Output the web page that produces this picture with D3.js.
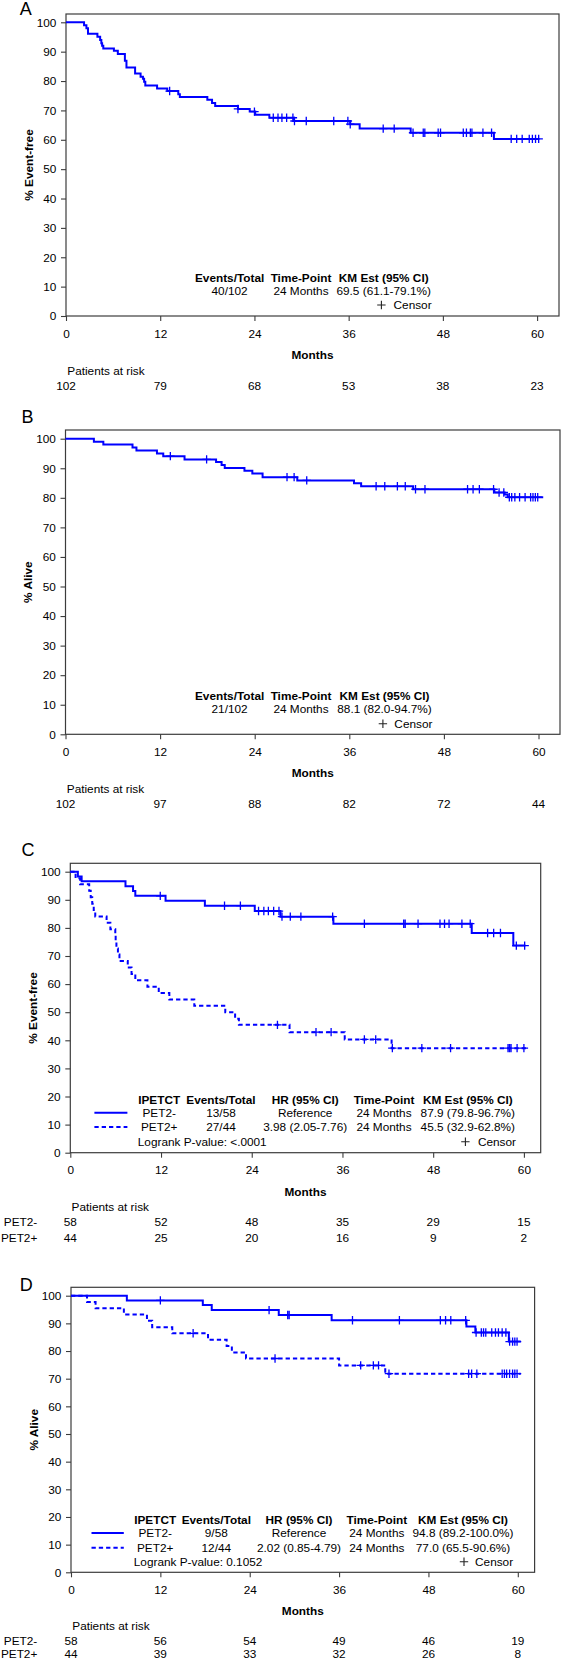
<!DOCTYPE html>
<html><head><meta charset="utf-8">
<script src="https://cdn.jsdelivr.net/npm/d3@7"></script>
<style>
body{margin:0;background:#fff}
svg{display:block;background:#fff}
text{font-family:"Liberation Sans",Arial,sans-serif;fill:#000}
</style>
</head><body>
<svg id="chart" width="562" height="1661"></svg>
<script>
// ---------------- DATA ----------------
const monthTicks = [0, 12, 24, 36, 48, 60];
const pctTicks = [0, 10, 20, 30, 40, 50, 60, 70, 80, 90, 100];
const panelLetters = ["A", "B", "C", "D"];
const yTitles = ["% Event-free", "% Alive", "% Event-free", "% Alive"];

// Panel A: event-free survival, all patients  [month, % event-free]
const aSteps = [[2.3,99.0],[2.6,98.0],[2.8,96.1],[4.0,95.1],[4.35,94.0],[4.5,92.9],[4.6,92.0],[4.75,91.1],[6.1,90.3],[6.6,89.2],[7.5,86.9],[7.7,84.6],[8.8,82.6],[9.5,81.5],[9.8,80.8],[9.95,79.8],[10.1,78.5],[11.6,77.5],[12.9,76.6],[14.3,75.5],[14.5,74.6],[18.0,73.6],[18.6,72.5],[19.0,71.5],[21.9,70.5],[23.4,69.6],[24.1,68.5],[25.9,67.5],[29.0,66.4],[36.2,65.3],[37.4,63.8],[43.9,62.4],[54.5,60.3]];
const aCensor = [13.2,21.9,24.0,26.4,27.0,27.5,28.1,28.9,29.1,30.6,34.1,35.9,36.2,40.4,41.8,44.2,45.5,45.7,47.4,47.7,50.6,51.0,51.5,51.7,53.1,54.2,56.7,57.4,58.1,59.0,59.4,59.8,60.2];
// Panel B: overall survival, all patients
const bSteps = [[3.6,99.0],[4.8,98.0],[8.5,97.0],[9.0,96.0],[11.6,95.0],[12.4,94.1],[15.1,93.0],[19.1,92.1],[19.8,91.1],[20.2,90.1],[22.7,89.2],[23.7,88.2],[25.0,87.0],[29.4,85.9],[36.6,84.9],[37.5,83.9],[44.1,82.9],[54.4,81.8],[55.7,81.1],[56.1,80.2]];
const bCensor = [13.3,17.9,28.1,29.0,30.6,39.4,40.5,42.1,43.1,44.4,45.6,51.0,51.7,52.5,54.3,55.0,55.6,56.3,56.6,57.0,57.6,58.3,59.0,59.3,59.6,59.9];
// Panel C: event-free survival by PET2
const cNegSteps = [[1.0,98.3],[1.5,96.6],[7.3,94.8],[8.3,93.1],[8.6,91.4],[12.6,89.7],[17.8,87.9],[24.4,86.0],[27.8,84.0],[34.8,81.5],[53.1,78.2],[58.6,73.7]];
const cNegCensor = [11.9,20.4,22.5,24.9,25.6,26.2,26.9,27.6,28.0,29.1,30.5,34.7,38.9,44.1,44.3,46.0,48.9,49.5,50.1,51.8,52.9,55.2,56.0,56.9,59.0,60.1];
const cPosSteps = [[0.7,97.7],[1.3,95.5],[2.5,93.2],[2.7,90.9],[2.9,88.6],[3.1,86.4],[3.3,84.1],[4.8,81.8],[5.3,79.5],[5.95,77.3],[6.0,75.0],[6.1,72.7],[6.3,70.5],[6.5,68.2],[7.6,65.9],[8.1,63.6],[8.6,61.4],[10.2,59.1],[11.7,56.8],[13.1,54.5],[16.4,52.3],[20.5,50.0],[21.8,47.7],[22.3,45.5],[29.0,42.9],[36.3,40.3],[42.5,37.2]];
const cPosCensor = [27.4,32.5,34.5,38.9,40.4,42.6,46.5,50.3,57.9,58.1,58.3,59.1,60.0];
// Panel D: overall survival by PET2
const dNegSteps = [[7.5,98.3],[17.7,96.6],[18.9,94.8],[27.9,93.0],[35.0,91.1],[53.1,88.9],[54.3,86.7],[58.8,83.4]];
const dNegCensor = [12.0,26.6,29.1,29.3,37.8,44.1,49.6,50.3,51.0,53.0,54.4,55.1,55.4,55.7,56.5,57.0,57.4,57.9,58.4,58.9,59.3,59.6,59.9];
const dPosSteps = [[2.15,97.7],[3.3,95.5],[7.1,93.2],[10.2,90.9],[10.9,88.6],[13.6,86.4],[18.4,84.1],[20.9,81.8],[21.6,79.5],[23.5,77.3],[36.0,74.8],[42.2,71.8]];
const dPosCensor = [16.4,27.4,38.9,40.6,41.3,42.7,53.4,53.8,54.5,57.9,58.2,58.5,58.9,59.3,59.6,59.9];
// last follow-up month of each curve: A, B, C PET2-, C PET2+, D PET2-, D PET2+
const curveEndMonths = [60.3, 60.6, 60.2, 60.5, 60.4, 60.4];

// Patients at risk at monthTicks
const aRisk = [102, 79, 68, 53, 38, 23];
const bRisk = [102, 97, 88, 82, 72, 44];
const cRiskNeg = [58, 52, 48, 35, 29, 15];
const cRiskPos = [44, 25, 20, 16, 9, 2];
const dRiskNeg = [58, 56, 54, 49, 46, 19];
const dRiskPos = [44, 39, 33, 32, 26, 8];
const groupNames = ["PET2-", "PET2+"];

// Legend tables
const legendHeadAB = ["Events/Total", "Time-Point", "KM Est (95% CI)"];
const aLegendRow = ["40/102", "24 Months", "69.5 (61.1-79.1%)"];
const bLegendRow = ["21/102", "24 Months", "88.1 (82.0-94.7%)"];
const legendHeadCD = ["IPETCT", "Events/Total", "HR (95% CI)", "Time-Point", "KM Est (95% CI)"];
const cLegendRows = [["PET2-", "13/58", "Reference", "24 Months", "87.9 (79.8-96.7%)"],
                     ["PET2+", "27/44", "3.98 (2.05-7.76)", "24 Months", "45.5 (32.9-62.8%)"]];
const dLegendRows = [["PET2-", "9/58", "Reference", "24 Months", "94.8 (89.2-100.0%)"],
                     ["PET2+", "12/44", "2.02 (0.85-4.79)", "24 Months", "77.0 (65.5-90.6%)"]];
const logrankTexts = ["Logrank P-value: <.0001", "Logrank P-value: 0.1052"];
const censorLabel = "Censor";
const xTitle = "Months";
const riskTitle = "Patients at risk";

// ---------------- DRAWING ----------------
const svg = d3.select("#chart");
const FS = 11.8;
const BLUE = "#0000ff";
const FRAME = "#3c3c3c";

function txt(g, x, yc, s, opt = {}) {
  return g.append("text")
    .attr("x", x).attr("y", yc + FS * 0.36)
    .attr("text-anchor", opt.anchor || "middle")
    .attr("font-size", opt.size || FS)
    .attr("font-weight", opt.bold ? "bold" : "normal")
    .text(s);
}
function plusPath(cx, cy, r) {
  return `M${cx - r},${cy}H${cx + r}M${cx},${cy - r}V${cy + r}`;
}
function survAt(steps, t) {
  let s = 100;
  for (const [tt, v] of steps) if (tt <= t) s = v;
  return s;
}

function drawPanel(p) {
  const g = svg.append("g");
  const x = d3.scaleLinear().domain([0, 60]).range([p.left, p.x60]);
  const y = d3.scaleLinear().domain([0, 100]).range([p.y0, p.y100]);

  g.append("text").attr("x", p.letterX).attr("y", p.letterY)
    .attr("font-size", 18).text(p.letter);

  g.append("rect").attr("x", p.left).attr("y", p.top)
    .attr("width", p.right - p.left).attr("height", p.y0 - p.top)
    .attr("fill", "none").attr("stroke", FRAME).attr("stroke-width", 1.2);

  const ya = g.append("g").attr("transform", `translate(${p.left},0)`)
    .call(d3.axisLeft(y).tickValues(pctTicks).tickSize(5).tickPadding(4.7));
  const xa = g.append("g").attr("transform", `translate(0,${p.y0})`)
    .call(d3.axisBottom(x).tickValues(monthTicks).tickSize(5).tickPadding(8.2));
  [ya, xa].forEach(a => {
    a.select(".domain").remove();
    a.selectAll(".tick line").attr("stroke", FRAME).attr("stroke-width", 1.1);
    a.selectAll(".tick text").attr("font-size", FS).attr("fill", "#000")
      .attr("font-family", '"Liberation Sans",Arial,sans-serif');
  });

  const ycen = (p.top + p.y0) / 2;
  g.append("text").attr("transform", `translate(${p.left - 37.4 + FS * 0.36},${ycen}) rotate(-90)`)
    .attr("text-anchor", "middle").attr("font-size", FS).attr("font-weight", "bold").text(p.yTitle);

  txt(g, (p.left + p.right) / 2, p.y0 + 38.8, xTitle, { bold: true });

  const line = d3.line().x(d => x(d[0])).y(d => y(d[1])).curve(d3.curveStepAfter);
  p.series.forEach(s => {
    const pts = [[0, 100], ...s.steps, [s.end, s.steps[s.steps.length - 1][1]]];
    g.append("path").attr("d", line(pts)).attr("fill", "none")
      .attr("stroke", BLUE).attr("stroke-width", 2)
      .attr("stroke-dasharray", s.dashed ? "4.3,3" : null);
    g.append("path").attr("d", s.censor.map(c => plusPath(x(c), y(survAt(s.steps, c)), 4.2)).join(""))
      .attr("fill", "none").attr("stroke", BLUE).attr("stroke-width", 1.3);
  });

  const L = p.legend;
  const yr = L.rows.map(r => p.y0 + r);
  if (L.type === "single") {
    legendHeadAB.forEach((h, i) => txt(g, L.cols[i], yr[0], h, { bold: true }));
    L.values.forEach((v, i) => txt(g, L.cols[i], yr[1], v));
    txt(g, L.censorRight, yr[2], censorLabel, { anchor: "end" });
    g.append("path").attr("d", plusPath(L.plusX, yr[2], 4.2)).attr("stroke", "#222").attr("stroke-width", 1.1);
  } else {
    legendHeadCD.forEach((h, i) => txt(g, L.cols[i], yr[0], h, { bold: true }));
    L.values.forEach((row, j) => {
      row.forEach((v, i) => txt(g, L.cols[i], yr[j + 1], v));
      g.append("line").attr("x1", L.sample[0]).attr("x2", L.sample[1])
        .attr("y1", yr[j + 1]).attr("y2", yr[j + 1])
        .attr("stroke", BLUE).attr("stroke-width", 2)
        .attr("stroke-dasharray", j === 1 ? "4.3,3" : null);
    });
    txt(g, L.logrankX, yr[3], L.logrank, { anchor: "start" });
    txt(g, L.censorRight, yr[3], censorLabel, { anchor: "end" });
    g.append("path").attr("d", plusPath(L.plusX, yr[3], 4.2)).attr("stroke", "#222").attr("stroke-width", 1.1);
  }

  txt(g, p.left + 1.3, p.y0 + p.riskTitleOff, riskTitle, { anchor: "start" });
  p.risk.forEach((row, j) => {
    const yy = p.y0 + p.riskStart + j * p.riskGap;
    if (p.risk.length > 1) txt(g, 37.3, yy, groupNames[j], { anchor: "end" });
    row.forEach((v, i) => txt(g, x(monthTicks[i]), yy, v));
  });
}

const panels = [
  { letter: panelLetters[0], letterX: 19.7, letterY: 15, yTitle: yTitles[0],
    left: 66, x60: 537.1, right: 559, top: 14, y100: 22.3, y0: 316,
    series: [{ steps: aSteps, censor: aCensor, end: curveEndMonths[0] }],
    legend: { type: "single", rows: [-38.3, -25, -11], cols: [229.6, 301, 383.7], values: aLegendRow, censorRight: 431.6, plusX: 381.4 },
    risk: [aRisk], riskTitleOff: 54.3, riskStart: 69.4, riskGap: 15 },
  { letter: panelLetters[1], letterX: 21.5, letterY: 422.7, yTitle: yTitles[1],
    left: 65.5, x60: 538.5, right: 560, top: 430, y100: 438.7, y0: 734.3,
    series: [{ steps: bSteps, censor: bCensor, end: curveEndMonths[1] }],
    legend: { type: "single", rows: [-38.6, -25.3, -10.6], cols: [229.6, 301, 384.5], values: bLegendRow, censorRight: 432.4, plusX: 382.9 },
    risk: [bRisk], riskTitleOff: 54.3, riskStart: 69.4, riskGap: 15 },
  { letter: panelLetters[2], letterX: 21.5, letterY: 856, yTitle: yTitles[2],
    left: 70.3, x60: 523.9, right: 540.7, top: 863.3, y100: 871.7, y0: 1152.7,
    series: [{ steps: cNegSteps, censor: cNegCensor, end: curveEndMonths[2] },
             { steps: cPosSteps, censor: cPosCensor, end: curveEndMonths[3], dashed: true }],
    legend: { type: "group", rows: [-53.4, -40, -25.7, -11], cols: [159.2, 221, 305.2, 384, 467.8], values: cLegendRows,
              sample: [94.4, 127.4], logrankX: 137.8, logrank: logrankTexts[0], censorRight: 516, plusX: 465.4 },
    risk: [cRiskNeg, cRiskPos], riskTitleOff: 54.3, riskStart: 69.4, riskGap: 15.3 },
  { letter: panelLetters[3], letterX: 19.7, letterY: 1290.7, yTitle: yTitles[3],
    left: 71, x60: 517.8, right: 534.6, top: 1287.3, y100: 1295.7, y0: 1572.3,
    series: [{ steps: dNegSteps, censor: dNegCensor, end: curveEndMonths[4] },
             { steps: dPosSteps, censor: dPosCensor, end: curveEndMonths[5], dashed: true }],
    legend: { type: "group", rows: [-52.3, -39.3, -24.6, -10.6], cols: [155.2, 216.3, 299, 376.8, 463], values: dLegendRows,
              sample: [91.5, 123.8], logrankX: 133.8, logrank: logrankTexts[1], censorRight: 513.1, plusX: 464 },
    risk: [dRiskNeg, dRiskPos], riskTitleOff: 53.3, riskStart: 68.2, riskGap: 13.6 }
];
panels.forEach(drawPanel);
</script>
</body></html>
